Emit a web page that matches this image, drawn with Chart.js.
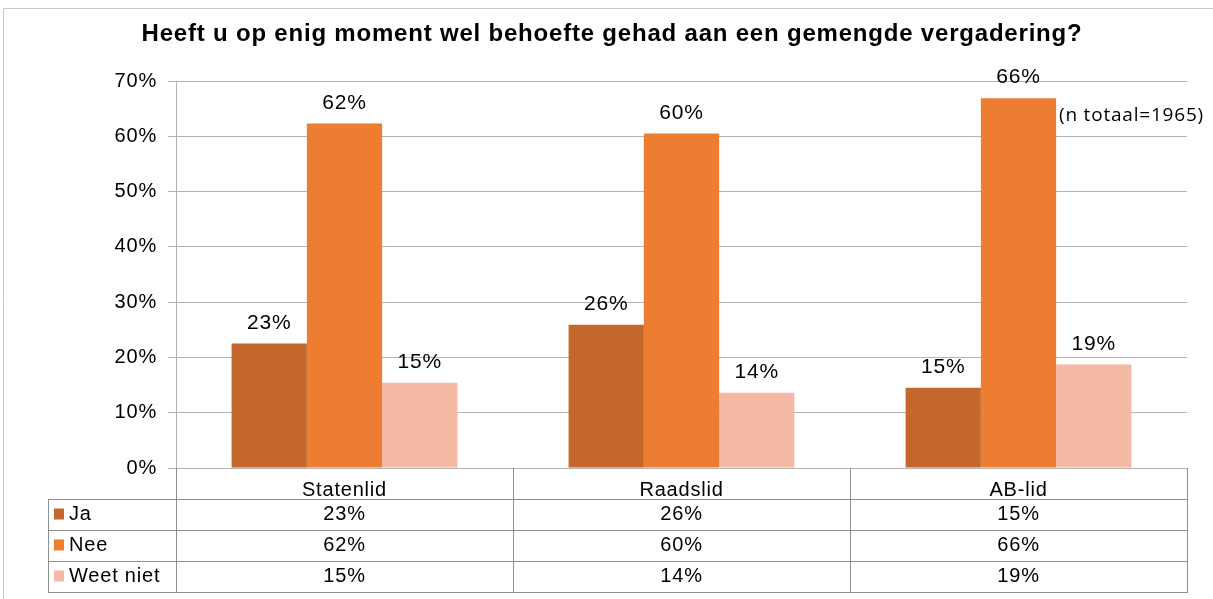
<!DOCTYPE html>
<html>
<head>
<meta charset="utf-8">
<script src="https://cdn.jsdelivr.net/npm/chart.js@4"></script>
<style>
    html, body { margin: 0; padding: 0; background: #fff; }
    #wrap { width: 1213px; height: 599px; position: relative; }
</style>
</head>
<body>
<div id="wrap"><canvas id="chart"></canvas></div>
<script>
// Data
const categories = ['Statenlid', 'Raadslid', 'AB-lid'];
const seriesNames = ['Ja', 'Nee', 'Weet niet'];
const jaValues = [22.5, 25.9, 14.5];
const neeValues = [62.3, 60.5, 66.9];
const weetNietValues = [15.4, 13.6, 18.7];
// Percentages as printed on the chart and in the table
const jaLabels = [23, 26, 15];
const neeLabels = [62, 60, 66];
const weetNietLabels = [15, 14, 19];
const yTicks = [0, 10, 20, 30, 40, 50, 60, 70];

const chartTitle = 'Heeft u op enig moment wel behoefte gehad aan een gemengde vergadering?';
const colors = ['#c4672a', '#ed7d31', '#f4b9a4'];
const FONT = '"Liberation Sans", Arial, sans-serif';
const gridColor = '#b3b3b3';
const tableColor = '#8f8f8f';

// The original text is rendered a bit wide, so add letter spacing
const spacingPlugin = {
    id: 'spacingPlugin',
    beforeDraw(chart) {
        chart.ctx.letterSpacing = '0.8px';
    }
};

// Title, labels above the bars, and the data table below the axis
const tablePlugin = {
    id: 'tablePlugin',
    afterDraw(chart) {
        const ctx = chart.ctx;
        const area = chart.chartArea;
        const xScale = chart.scales.x;
        const labelSets = [jaLabels, neeLabels, weetNietLabels];

        ctx.save();
        ctx.letterSpacing = '0.8px';
        ctx.fillStyle = '#000';

        // title
        ctx.font = 'bold 24px ' + FONT;
        ctx.textAlign = 'center';
        ctx.textBaseline = 'middle';
        ctx.fillText(chartTitle, 612, 34);

        // value labels
        ctx.font = '21px ' + FONT;
        ctx.textBaseline = 'alphabetic';
        chart.data.datasets.forEach((ds, i) => {
            const meta = chart.getDatasetMeta(i);
            meta.data.forEach((bar, j) => {
                ctx.fillText(labelSets[i][j] + '%', bar.x, bar.y - 15);
            });
        });

        // n-total note
        ctx.font = '19px "Open Sans", sans-serif';
        ctx.textAlign = 'right';
        ctx.textBaseline = 'middle';
        ctx.fillText('(n totaal=1965)', area.right + 17, 116);

        // table grid
        const top = xScale.top;
        const bottom = xScale.bottom;
        const rowH = (bottom - top) / 4;
        const tableLeft = 48;
        const n = categories.length;
        const colW = (area.right - area.left) / n;

        ctx.strokeStyle = tableColor;
        ctx.lineWidth = 1;
        ctx.beginPath();
        for (let c = 0; c <= n; c++) {
            const x = Math.round(area.left + c * colW) + 0.5;
            ctx.moveTo(x, top);
            ctx.lineTo(x, bottom);
        }
        ctx.moveTo(tableLeft + 0.5, top + rowH);
        ctx.lineTo(tableLeft + 0.5, bottom);
        for (let r = 1; r <= 4; r++) {
            const y = Math.round(top + r * rowH) + 0.5;
            ctx.moveTo(tableLeft, y);
            ctx.lineTo(area.right + 1, y);
        }
        ctx.stroke();

        // rows
        for (let r = 0; r < seriesNames.length; r++) {
            const yc = top + (r + 1.5) * rowH;
            ctx.fillStyle = colors[r];
            ctx.fillRect(tableLeft + 6, yc - 6, 10, 11);
            ctx.fillStyle = '#000';
            ctx.font = '20px ' + FONT;
            ctx.textAlign = 'left';
            ctx.textBaseline = 'middle';
            ctx.fillText(seriesNames[r], tableLeft + 21, yc);
            ctx.textAlign = 'center';
            for (let c = 0; c < n; c++) {
                const xc = xScale.getPixelForValue(c);
                ctx.fillText(labelSets[r][c] + '%', xc, yc);
            }
        }

        // outer frame (top and left edges)
        ctx.strokeStyle = '#c8c8c8';
        ctx.beginPath();
        ctx.moveTo(3.5, 599);
        ctx.lineTo(3.5, 8.5);
        ctx.lineTo(1213, 8.5);
        ctx.stroke();
        ctx.restore();
    }
};

const ctx = document.getElementById('chart');
new Chart(ctx.getContext('2d'), {
    type: 'bar',
    data: {
        labels: categories,
        datasets: [
            { label: seriesNames[0], data: jaValues, backgroundColor: colors[0] },
            { label: seriesNames[1], data: neeValues, backgroundColor: colors[1] },
            { label: seriesNames[2], data: weetNietValues, backgroundColor: colors[2] }
        ]
    },
    options: {
        responsive: true,
        maintainAspectRatio: false,
        animation: false,
        devicePixelRatio: 1,
        layout: { padding: { left: 0, right: 26, top: 81, bottom: 7 } },
        datasets: {
            bar: { categoryPercentage: 0.67, barPercentage: 1.0, borderWidth: 0 }
        },
        plugins: {
            legend: { display: false },
            tooltip: { enabled: false },
            title: { display: false }
        },
        scales: {
            x: {
                grid: { display: false },
                border: { display: true, color: gridColor },
                ticks: {
                    color: '#000',
                    font: { family: FONT, size: 20 },
                    padding: 2
                },
                afterFit(scale) { scale.height = 124; }
            },
            y: {
                min: 0,
                max: 70,
                afterBuildTicks(scale) {
                    scale.ticks = yTicks.map(v => ({ value: v }));
                },
                grid: { color: gridColor, tickLength: 8, drawTicks: true },
                border: { display: true, color: gridColor },
                ticks: {
                    color: '#000',
                    font: { family: FONT, size: 20 },
                    padding: 11,
                    callback: v => v + '%'
                },
                afterFit(scale) { scale.width = 176; }
            }
        }
    },
    plugins: [spacingPlugin, tablePlugin]
});
</script>
</body>
</html>
